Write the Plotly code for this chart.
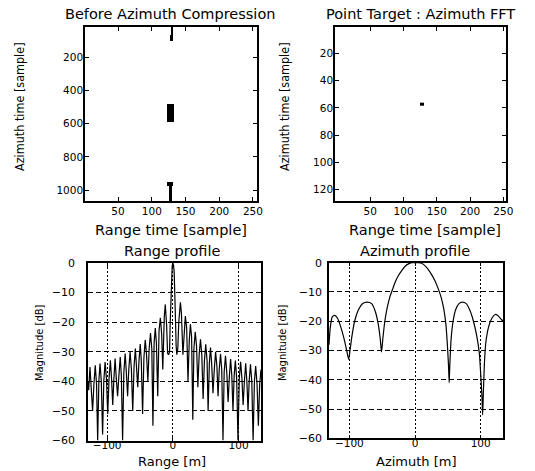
import plotly.graph_objects as go

# ---------------- data ----------------
# Top-left image: dark blobs (column range, row range) in [sample]
tl_col0 = [128, 127, 122, 123, 126]
tl_col1 = [131, 132, 133, 131, 130]
tl_row0 = [18, 64, 480, 953, 975]
tl_row1 = [64, 104, 588, 975, 1066]
tl_xlim = [1, 256]
tl_ylim = [18, 1066]

# Top-right image: compressed point target
tr_col0 = [124]
tr_col1 = [131]
tr_row0 = [56.3]
tr_row1 = [58.6]
tr_xlim = [-3, 254]
tr_ylim = [1, 128]

# Range profile (m, dB)
range_m = [-129, -128, -126, -124, -122, -120, -118, -116, -114.3, -112.5, -110.7, -108.8, -106.8, -105, -103,
           -101, -99, -97, -95, -93.2, -91.4, -89.6, -87.8, -86, -84, -82, -80, -78.3, -76.4, -74.5, -72.5,
           -70.7, -68.8, -67, -65, -63, -61, -59, -57, -55.3, -53.4, -51.5, -49.6, -48, -46, -44, -42, -40,
           -38, -36, -34, -32, -30.3, -28.5, -26.7, -25, -23, -21, -19, -17, -15.3, -13, -11.5, -9.5, -8,
           -6.5, -5, -4, -3, -2, -1, 0, 1, 2, 3, 4, 5, 6, 7.5, 9, 11.5, 13, 15.3, 17, 19, 21, 23, 25, 26.7,
           28.5, 30.3, 32, 34, 36, 38, 40, 42, 44, 46, 48, 50, 52, 53.6, 55.5, 57.2, 59, 61, 63, 65, 67,
           68.7, 70.5, 72.5, 74.3, 76.2, 78, 80, 82, 84, 86, 87.8, 89.6, 91.4, 93.2, 95, 97, 99, 101, 103,
           105, 106.8, 108.8, 110.7, 112.5, 114.3, 116, 118, 120, 122, 124, 125.9, 128, 130, 132, 134]
range_db = [-40, -43, -35.2, -41, -50, -41, -34.6, -41, -60, -40, -34, -40, -58, -40, -33.5,
            -39, -51, -39, -32.9, -39, -48, -39, -32.3, -39, -45, -38, -31.8, -38, -60, -37, -30.6,
            -37, -45, -36, -30, -36, -50, -35, -28.9, -35, -42, -33, -27.4, -33, -51, -32, -26, -31,
            -40, -29, -23.7, -29, -55, -27, -22, -27, -45, -23, -18.5, -24, -36, -18, -14, -21, -30.5,
            -31, -30, -20, -10, -3.5, -1, 0, -0.8, -3, -9, -19, -28, -31, -29, -20, -13.3, -17, -31, -23,
            -17.9, -22, -40, -26, -20.7, -25, -53, -29, -23.3, -28, -42, -31, -25.8, -31, -46, -33, -27.5,
            -33, -50, -34, -28.6, -34, -44, -36, -30, -35, -45, -36, -30.8, -36, -60, -37, -31.4, -37,
            -47, -38, -32.5, -38, -50, -38, -33, -39, -60, -39, -33.4, -39, -48, -40, -33.9, -40, -50,
            -40, -34.2, -40, -60, -40, -34.8, -41, -55, -41, -36]

# Azimuth profile (m, dB)
az_m = [-131, -129, -126, -122, -118, -113, -108, -104, -101, -99, -96, -92, -87, -80, -73, -66, -60,
        -56, -53, -51, -49, -46, -42, -38, -34, -30, -25, -20, -15, -10, -5, 0, 5, 10, 15, 20, 25, 30,
        35, 40, 44, 47, 49, 51, 52, 53, 55, 58, 62, 67, 72, 78, 84, 89, 94, 98, 100, 102, 103, 104, 106,
        108, 112, 117, 122, 126, 130, 134]
az_db = [-28, -22, -18.5, -18, -19, -22, -26, -30, -33, -30, -25, -20, -16.5, -14, -13.5, -14, -17,
         -21, -26, -30.5, -26, -20, -15, -11.5, -9, -6.5, -4.3, -2.6, -1.2, -0.4, 0, 0, 0, -0.2, -1,
         -2.3, -4, -6, -8.7, -12, -16, -21, -27, -35, -41, -35, -26, -20, -16, -14, -13.5, -14, -16.5,
         -20, -25, -31, -38, -46, -52, -45, -33, -27, -22, -19, -17.7, -18, -19, -20]

tl_xticks = [50, 100, 150, 200, 250]
tl_yticks = [200, 400, 600, 800, 1000]
tr_xticks = [50, 100, 150, 200, 250]
tr_yticks = [20, 40, 60, 80, 100, 120]
prof_xticks = [-100, 0, 100]
prof_yticks = [0, -10, -20, -30, -40, -50, -60]


def blob_grid(xlim, ylim, c0, c1, r0, r1):
    xe = sorted(set([xlim[0], xlim[1]] + list(c0) + list(c1)))
    ye = sorted(set([ylim[0], ylim[1]] + list(r0) + list(r1)))
    z = []
    for j in range(len(ye) - 1):
        yc = 0.5 * (ye[j] + ye[j + 1])
        row = []
        for i in range(len(xe) - 1):
            xc = 0.5 * (xe[i] + xe[i + 1])
            v = 0
            for a, b, c, d in zip(c0, c1, r0, r1):
                if a <= xc <= b and c <= yc <= d:
                    v = 1
            row.append(v)
        z.append(row)
    return xe, ye, z


W, H = 535, 471


def px_x(a, b):
    return [a / W, b / W]


def px_y(top, bot):
    return [1 - bot / H, 1 - top / H]


fig = go.Figure()

cs = [[0, "white"], [1, "black"]]
xe, ye, z = blob_grid(tl_xlim, tl_ylim, tl_col0, tl_col1, tl_row0, tl_row1)
fig.add_trace(go.Heatmap(x=xe, y=ye, z=z, colorscale=cs, zmin=0, zmax=1, showscale=False,
                         xaxis="x", yaxis="y", hoverinfo="skip"))
xe, ye, z = blob_grid(tr_xlim, tr_ylim, tr_col0, tr_col1, tr_row0, tr_row1)
fig.add_trace(go.Heatmap(x=xe, y=ye, z=z, colorscale=cs, zmin=0, zmax=1, showscale=False,
                         xaxis="x2", yaxis="y2", hoverinfo="skip"))
fig.add_trace(go.Scatter(x=range_m, y=range_db, mode="lines", line=dict(color="black", width=1.2),
                         xaxis="x3", yaxis="y3", showlegend=False))
fig.add_trace(go.Scatter(x=az_m, y=az_db, mode="lines",
                         line=dict(color="black", width=1.2, shape="spline", smoothing=0.6),
                         xaxis="x4", yaxis="y4", showlegend=False))

tickfont = dict(family="DejaVu Sans", size=10.5, color="black")
base = dict(showline=True, mirror="ticks", linecolor="black", linewidth=1.5, ticks="inside",
            ticklen=4, tickwidth=1, tickcolor="black", zeroline=False, showgrid=False,
            tickfont=tickfont, fixedrange=True, automargin=False)

grid_y = dict(showgrid=True, gridcolor="black", gridwidth=1, griddash="5px,3px")
grid_x = dict(showgrid=True, gridcolor="black", gridwidth=1.2, griddash="2px,2px")

layout = dict(
    width=W, height=H, paper_bgcolor="white", plot_bgcolor="white",
    margin=dict(l=0, r=0, t=0, b=0, pad=0, autoexpand=False), showlegend=False,
    xaxis=dict(base, domain=px_x(85, 257), range=tl_xlim, tickvals=tl_xticks, anchor="y",
               ticklabelstandoff=0),
    yaxis=dict(base, domain=px_y(27, 201), range=[tl_ylim[1], tl_ylim[0]], tickvals=tl_yticks,
               anchor="x", ticklabelstandoff=-2),
    xaxis2=dict(base, domain=px_x(335, 506), range=tr_xlim, tickvals=tr_xticks, anchor="y2",
                ticklabelstandoff=0),
    yaxis2=dict(base, domain=px_y(27, 201), range=[tr_ylim[1] + 0.5, tr_ylim[0] - 0.5],
                tickvals=tr_yticks, anchor="x2", ticklabelstandoff=-2),
    xaxis3=dict(base, **grid_x, domain=px_x(88, 261), range=[-129, 134], tickvals=prof_xticks,
                anchor="y3", tickfont=dict(tickfont, size=10.5), ticklabelstandoff=-6),
    yaxis3=dict(base, **grid_y, domain=px_y(263, 440.5), range=[-60, 0], tickvals=prof_yticks,
                anchor="x3", tickfont=dict(tickfont, size=11), ticklabelstandoff=9),
    xaxis4=dict(base, **grid_x, domain=px_x(329, 503), range=[-131, 134], tickvals=prof_xticks,
                anchor="y4", tickfont=dict(tickfont, size=10.5), ticklabelstandoff=-6),
    yaxis4=dict(base, **grid_y, domain=px_y(262.7, 438.3), range=[-60, 0], tickvals=prof_yticks,
                anchor="x4", tickfont=dict(tickfont, size=11), ticklabelstandoff=3),
)
fig.update_layout(**layout)

title_font = dict(family="DejaVu Sans", size=14.5, color="black")
xt_font = dict(family="DejaVu Sans", size=14.5, color="black")
xt_font_b = dict(family="DejaVu Sans", size=13, color="black")
yt_font = dict(family="Liberation Sans Narrow, DejaVu Sans Condensed, sans-serif", size=12.5, color="black")
yt_font_small = dict(family="Liberation Sans Narrow, DejaVu Sans Condensed, sans-serif", size=11, color="black")

ann = []


def add_text(txt, x, y, font, angle=0):
    ann.append(dict(text=txt, x=x / W, y=1 - y / H, xref="paper", yref="paper", showarrow=False,
                    xanchor="center", yanchor="middle", font=font, textangle=angle))


add_text("Before Azimuth Compression", 170, 14, title_font)
add_text("Point Target : Azimuth FFT", 420, 14, title_font)
add_text("Range profile", 171.5, 251, title_font)
add_text("Azimuth profile", 415, 251, title_font)
add_text("Range time [sample]", 171, 230, xt_font)
add_text("Range time [sample]", 425, 230, xt_font)
add_text("Range [m]", 172, 461, xt_font_b)
add_text("Azimuth [m]", 416, 461, xt_font_b)
add_text("Azimuth time [sample]", 20, 107, yt_font, -90)
add_text("Azimuth time [sample]", 285, 107, yt_font, -90)
add_text("Magnitude [dB]", 39, 343, yt_font_small, -90)
add_text("Magnitude [dB]", 282, 343, yt_font_small, -90)
fig.update_layout(annotations=ann)

# remove the browser's default 8px page margin so the figure sits at the window origin
fig.write_html("out.html", config={"displayModeBar": False},
               post_script="document.body.style.margin='0px';")
